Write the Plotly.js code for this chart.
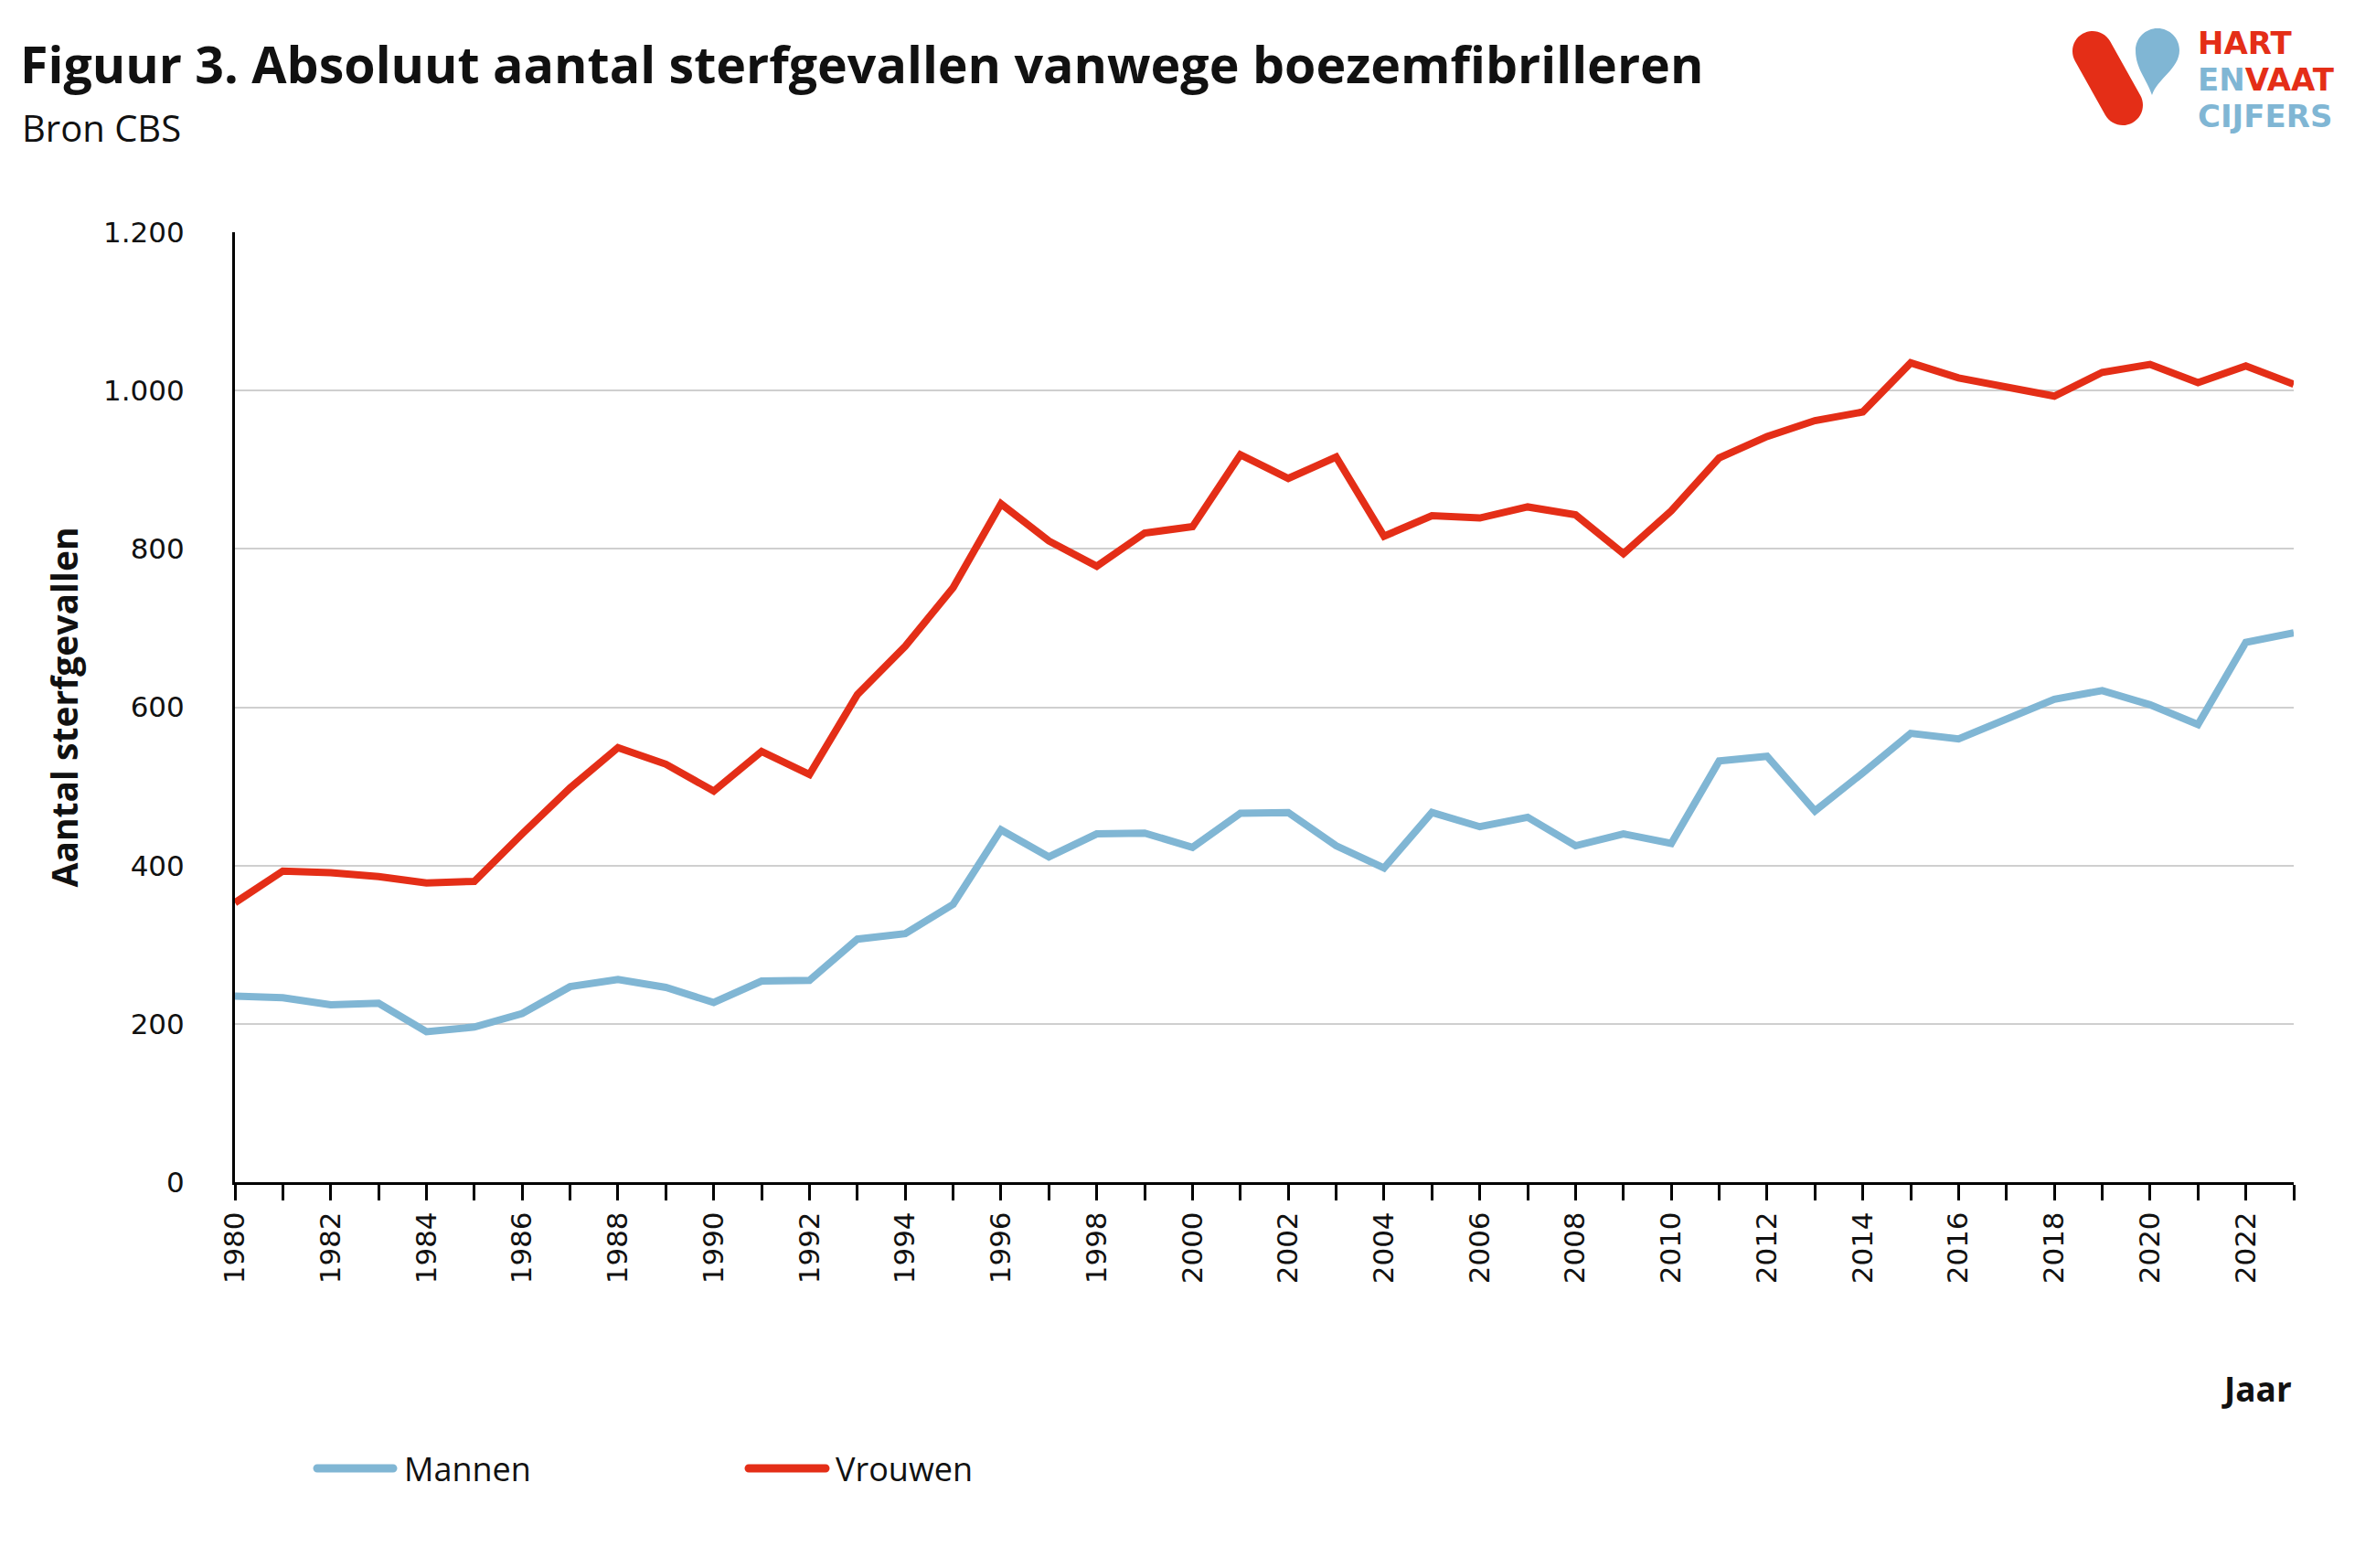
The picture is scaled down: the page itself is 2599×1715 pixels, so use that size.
<!DOCTYPE html>
<html>
<head>
<meta charset="utf-8">
<script src="https://cdn.plot.ly/plotly-3.0.1.min.js"></script>
<style>html,body{margin:0;padding:0;background:#fff;}</style>
</head>
<body>
<div id="chart" style="width:2599px;height:1715px;"></div>
<script>
// ---- data ----
const years = [1980,1981,1982,1983,1984,1985,1986,1987,1988,1989,
               1990,1991,1992,1993,1994,1995,1996,1997,1998,1999,
               2000,2001,2002,2003,2004,2005,2006,2007,2008,2009,
               2010,2011,2012,2013,2014,2015,2016,2017,2018,2019,
               2020,2021,2022,2023];
const mannen = [235,233,224,226,190,196,213,247,256,246,
                227,254,255,307,314,351,445,411,440,441,
                423,466,467,425,397,467,449,461,425,440,
                428,532,538,469,517,567,560,584,610,621,
                603,578,682,694];
const vrouwen = [353,393,391,386,378,380,440,498,549,528,
                 494,544,515,616,677,751,857,810,778,820,
                 828,919,889,916,816,842,839,853,843,794,
                 848,915,942,962,973,1035,1016,1005,993,1023,
                 1033,1010,1031,1008];
const seriesNames = ["Mannen", "Vrouwen"];
const titleText = "Figuur 3. Absoluut aantal sterfgevallen vanwege boezemfibrilleren";
const subtitleText = "Bron CBS";
const yTitle = "Aantal sterfgevallen";
const xTitle = "Jaar";

// ---- style ----
const BLUE = "#80B6D4";
const RED = "#E42E17";
const W = 2599, H = 1715;
const L = 257, R = 2509, T = 254, B = 1293;
const px = X => (X - L) / (R - L);
const py = Y => (B - Y) / (B - T);
const P = (X, Y) => px(X).toFixed(5) + "," + py(Y).toFixed(5);

function pill(ax, ay, bx, by, r) {
  const dx = bx - ax, dy = by - ay, len = Math.hypot(dx, dy);
  const ux = dx / len, uy = dy / len, nx = -uy, ny = ux, k = 0.5523 * r;
  const pt = (x, y) => P(x, y);
  let s = "M" + pt(ax + nx*r, ay + ny*r);
  s += " L" + pt(bx + nx*r, by + ny*r);
  s += " C" + pt(bx + nx*r + ux*k, by + ny*r + uy*k) + " " + pt(bx + ux*r + nx*k, by + uy*r + ny*k) + " " + pt(bx + ux*r, by + uy*r);
  s += " C" + pt(bx + ux*r - nx*k, by + uy*r - ny*k) + " " + pt(bx - nx*r + ux*k, by - ny*r + uy*k) + " " + pt(bx - nx*r, by - ny*r);
  s += " L" + pt(ax - nx*r, ay - ny*r);
  s += " C" + pt(ax - nx*r - ux*k, ay - ny*r - uy*k) + " " + pt(ax - ux*r - nx*k, ay - uy*r - ny*k) + " " + pt(ax - ux*r, ay - uy*r);
  s += " C" + pt(ax - ux*r + nx*k, ay - uy*r + ny*k) + " " + pt(ax + nx*r - ux*k, ay + ny*r - uy*k) + " " + pt(ax + nx*r, ay + ny*r);
  return s + " Z";
}
function drop(cx, cy, r, tx, ty) {
  const k = 0.5523 * r;
  let s = "M" + P(tx, ty);
  s += " C" + P(tx - 6, ty - 18) + " " + P(cx - r, cy + 20) + " " + P(cx - r, cy);
  s += " C" + P(cx - r, cy - k) + " " + P(cx - k, cy - r) + " " + P(cx, cy - r);
  s += " C" + P(cx + k, cy - r) + " " + P(cx + r, cy - k) + " " + P(cx + r, cy);
  s += " C" + P(cx + r, cy + 20) + " " + P(tx + 6, ty - 18) + " " + P(tx, ty);
  return s + " Z";
}

const traces = [
  {x: years, y: mannen, name: seriesNames[0], type: "scatter", mode: "lines",
   line: {color: BLUE, width: 8}, hoverinfo: "x+y+name"},
  {x: years, y: vrouwen, name: seriesNames[1], type: "scatter", mode: "lines",
   line: {color: RED, width: 8}, hoverinfo: "x+y+name"}
];

const tickFont = {family: "DejaVu Sans", size: 31, color: "#111"};

const shapes = [
  // logo
  {type: "path", xref: "paper", yref: "paper", path: pill(2289, 56, 2322, 115, 22), fillcolor: RED, line: {width: 0}},
  {type: "path", xref: "paper", yref: "paper", path: drop(2360, 55, 24, 2354, 104), fillcolor: BLUE, line: {width: 0}},
  // legend samples
  {type: "path", xref: "paper", yref: "paper", path: pill(347, 1606, 430, 1606, 4.5), fillcolor: BLUE, line: {width: 0}},
  {type: "path", xref: "paper", yref: "paper", path: pill(819, 1606, 903, 1606, 4.5), fillcolor: RED, line: {width: 0}}
];

const annotations = [
  {text: subtitleText, xref: "paper", yref: "paper", x: px(22), y: py(139), xanchor: "left", yanchor: "middle",
   showarrow: false, font: {family: "Open Sans", size: 40, color: "#111"}},
  {text: xTitle, xref: "paper", yref: "paper", x: 1, y: py(1518), xanchor: "right", yanchor: "middle",
   showarrow: false, font: {family: "Open Sans", size: 37, color: "#111", weight: 700}},
  {text: seriesNames[0], xref: "paper", yref: "paper", x: px(440), y: py(1606), xanchor: "left", yanchor: "middle",
   showarrow: false, font: {family: "Open Sans", size: 36, color: "#111"}},
  {text: seriesNames[1], xref: "paper", yref: "paper", x: px(912), y: py(1606), xanchor: "left", yanchor: "middle",
   showarrow: false, font: {family: "Open Sans", size: 36, color: "#111"}},
  // logo text
  {text: "HART", xref: "paper", yref: "paper", x: px(2402), y: py(47), xanchor: "left", yanchor: "middle",
   showarrow: false, font: {family: "DejaVu Sans", size: 34, color: RED, weight: 700}},
  {text: "<span style='color:" + BLUE + "'>EN</span><span style='color:" + RED + "'>VAAT</span>", xref: "paper", yref: "paper",
   x: px(2402), y: py(87), xanchor: "left", yanchor: "middle",
   showarrow: false, font: {family: "DejaVu Sans", size: 34, color: RED, weight: 700}},
  {text: "CIJFERS", xref: "paper", yref: "paper", x: px(2402), y: py(127), xanchor: "left", yanchor: "middle",
   showarrow: false, font: {family: "DejaVu Sans", size: 34, color: BLUE, weight: 700}}
];

const layout = {
  width: W, height: H,
  paper_bgcolor: "#fff", plot_bgcolor: "#fff",
  separators: ",.",
  showlegend: false,
  margin: {l: L, r: W - R, t: T, b: H - B, pad: 0},
  title: {text: titleText, x: 22 / W, xanchor: "left", xref: "container",
          y: 1 - 72 / H, yanchor: "middle", yref: "container",
          font: {family: "Open Sans", size: 55.5, color: "#111", weight: 700}},
  xaxis: {range: [1980, 2023], tickmode: "linear", tick0: 1980, dtick: 2,
          tickangle: -90, ticks: "outside", ticklen: 17, tickwidth: 3, tickcolor: "#000",
          showline: true, linecolor: "#000", linewidth: 3, showgrid: false, zeroline: false,
          tickfont: tickFont, fixedrange: true,
          minor: {dtick: 1, ticks: "outside", ticklen: 17, tickwidth: 3, tickcolor: "#000", showgrid: false}},
  yaxis: {range: [0, 1200], tickmode: "linear", tick0: 0, dtick: 200, tickformat: ",d",
          showgrid: true, gridcolor: "#cfcfcf", gridwidth: 2, zeroline: false,
          showline: true, linecolor: "#000", linewidth: 3, ticks: "",
          ticklabelstandoff: 46, tickfont: tickFont, fixedrange: true,
          title: {text: yTitle, standoff: 16, font: {family: "Open Sans", size: 39, color: "#111", weight: 700}}},
  shapes: shapes,
  annotations: annotations
};

Plotly.newPlot("chart", traces, layout, {displayModeBar: false, staticPlot: true});
</script>
</body>
</html>
